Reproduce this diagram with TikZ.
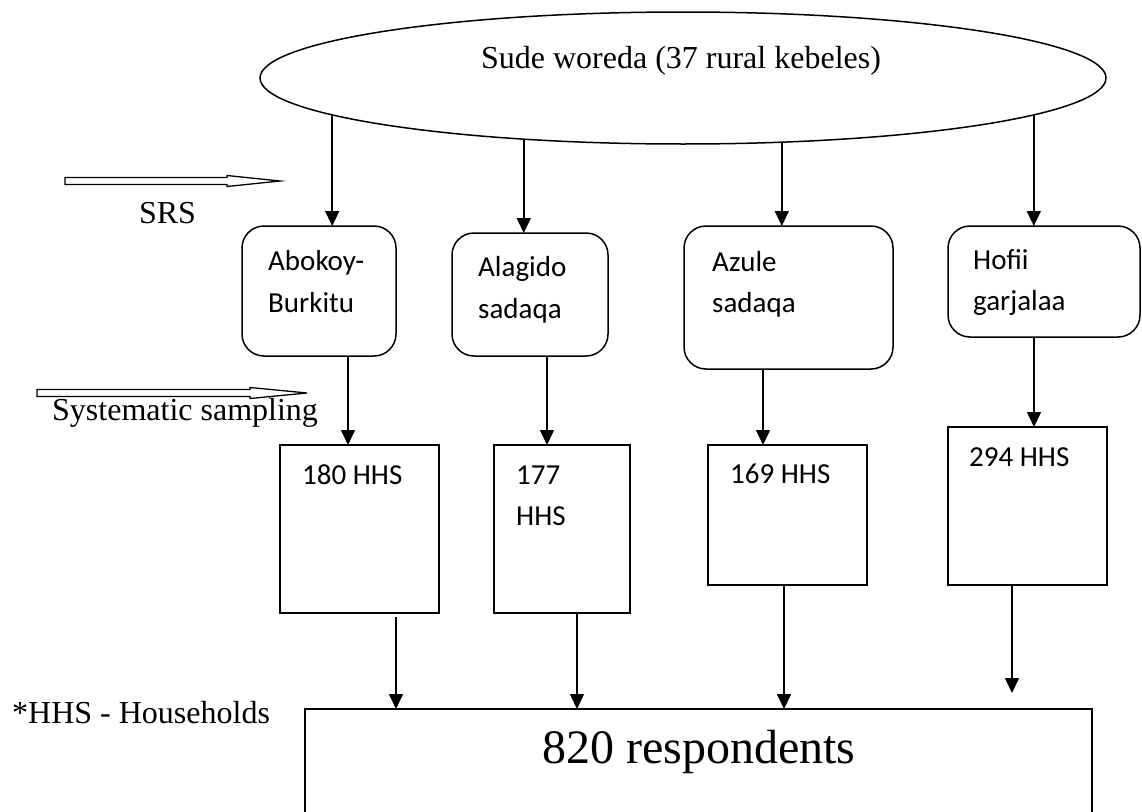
\documentclass[tikz,border=0pt]{standalone}
\usepackage{fontspec}
\setmainfont{Liberation Serif}
\newfontfamily\calib{Carlito}
\usetikzlibrary{shapes.geometric,arrows.meta}
\begin{document}
\begin{tikzpicture}[x=1pt,y=-1pt,
  arr/.style={line width=1.5pt,-{Triangle[width=14pt,length=15pt]}},
  rbox/.style={draw,line width=1.5pt,rounded corners=22pt,inner sep=0pt,outer sep=0pt},
  sbox/.style={draw,line width=1.5pt,inner sep=0pt,outer sep=0pt},
  ctxt/.style={font=\calib\fontsize{29}{35}\selectfont,anchor=base west,inner sep=0pt},
  stxt/.style={font=\fontsize{32}{38}\selectfont,inner sep=0pt},
  hollow/.style={draw,line width=1.3pt,fill=white,line join=miter}]
\useasboundingbox (0,0) rectangle (1142,811);
\fill[white] (0,0) rectangle (1142,811);
\clip (0,0) rectangle (1142,811);

% top ellipse
\node[ellipse,draw,line width=1.5pt,minimum width=846pt,minimum height=132pt,inner sep=0pt,outer sep=0pt] (ell) at (683,78) {};
\node[stxt,anchor=base] (title) at (681,68) {Sude woreda (37 rural kebeles)};

% kebele boxes
\node[rbox,minimum width=154pt,minimum height=130pt] (b1) at (319,291) {};
\node[rbox,minimum width=156pt,minimum height=123pt] (b2) at (530,294.5) {};
\node[rbox,minimum width=209pt,minimum height=143pt] (b3) at (788.5,297.5) {};
\node[rbox,minimum width=192pt,minimum height=111pt] (b4) at (1044,281.5) {};
\node[ctxt] (t1a) at (268,270) {Abokoy-};
\node[ctxt] (t1b) at (268,312) {Burkitu};
\node[ctxt] (t2a) at (478,276) {Alagido};
\node[ctxt] (t2b) at (478,318) {sadaqa};
\node[ctxt] (t3a) at (712,271) {Azule};
\node[ctxt] (t3b) at (712,312) {sadaqa};
\node[ctxt] (t4a) at (973,269) {Hofii};
\node[ctxt] (t4b) at (973,310) {garjalaa};

% household boxes
\node[sbox,minimum width=159pt,minimum height=168pt] (h1) at (359.5,529) {};
\node[sbox,minimum width=136pt,minimum height=168pt] (h2) at (562,529) {};
\node[sbox,minimum width=159pt,minimum height=140pt] (h3) at (787.5,515) {};
\node[sbox,minimum width=159pt,minimum height=158pt] (h4) at (1027.5,506) {};
\node[ctxt] (u1) at (302,484) {180 HHS};
\node[ctxt] (u2a) at (516,484) {177};
\node[ctxt] (u2b) at (516,525) {HHS};
\node[ctxt] (u3) at (730,483) {169 HHS};
\node[ctxt] (u4) at (969,466) {294 HHS};

% respondents box (runs off the bottom edge)
\node[sbox,anchor=north west,minimum width=787pt,minimum height=140pt] (resp) at (305,709) {};
\node[font=\fontsize{48}{56}\selectfont,anchor=base,inner sep=0pt] (rtxt) at (699,763) {820 respondents};

% arrows ellipse -> kebeles
\draw[arr] (ell.186.3) -- (ell.186.3 |- b1.north);
\draw[arr] (ell.201.4) -- (ell.201.4 |- b2.north);
\draw[arr] (ell.327.6) -- (ell.327.6 |- b3.north);
\draw[arr] (ell.354.0) -- (ell.354.0 |- b4.north);

% arrows kebeles -> households
\draw[arr] ([xshift=29pt]b1.south) -- ([xshift=29pt]b1.south |- h1.north);
\draw[arr] ([xshift=17pt]b2.south) -- ([xshift=17pt]b2.south |- h2.north);
\draw[arr] ([xshift=-25.5pt]b3.south) -- ([xshift=-25.5pt]b3.south |- h3.north);
\draw[arr] ([xshift=-10pt]b4.south) -- ([xshift=-10pt]b4.south |- h4.north);

% arrows households -> respondents
\draw[arr] ([xshift=36.5pt,yshift=-4pt]h1.south) -- ([xshift=36.5pt]h1.south |- resp.north);
\draw[arr] ([xshift=15pt]h2.south) -- ([xshift=15pt]h2.south |- resp.north);
\draw[arr] ([xshift=-3.5pt]h3.south) -- ([xshift=-3.5pt]h3.south |- resp.north);
\coordinate (end4) at (1012,693);
\draw[arr] ([xshift=-15.5pt]h4.south) -- (end4);

% method labels with hollow arrows
\coordinate (srsA) at (65,181);
\coordinate (srsB) at (280,181);
\draw[hollow] (65,177.5) -- (227,177.5) -- (227,175.5) -- (srsB) -- (227,186.5) -- (227,184.5) -- (65,184.5) -- cycle;
\node[stxt,anchor=base] (srs) at (167.5,223) {SRS};

\coordinate (sysA) at (37,393);
\coordinate (sysB) at (307,393);
\draw[hollow] (37,389.5) -- (250,389.5) -- (250,387.5) -- (sysB) -- (250,398.5) -- (250,396.5) -- (37,396.5) -- cycle;
\node[stxt,anchor=base west] (sys) at (52,420) {Systematic sampling};

\node[stxt,anchor=base west] (note) at (12,723) {*HHS - Households};
\end{tikzpicture}
\end{document}
